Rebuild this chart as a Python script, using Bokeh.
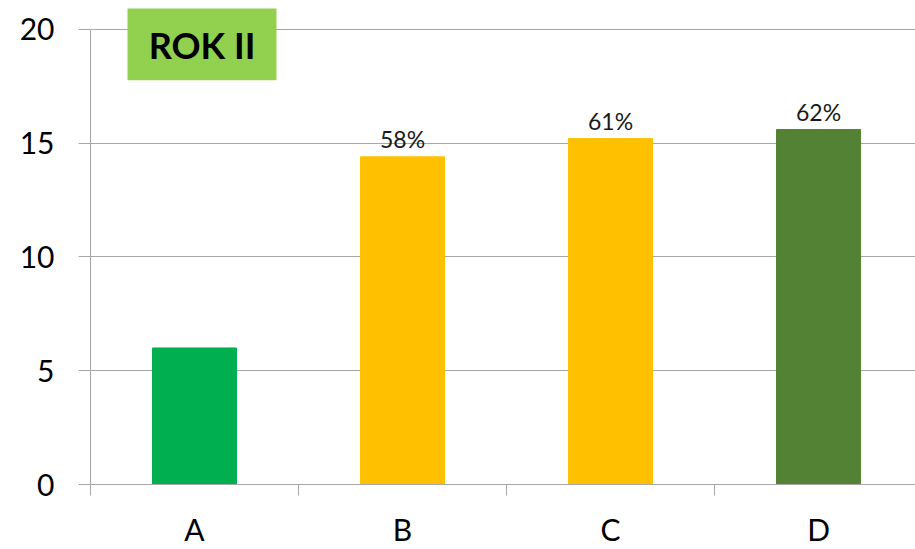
from bokeh.plotting import figure
from bokeh.models import Range1d, FixedTicker, BoxAnnotation, Label, ColumnDataSource
from bokeh.core.properties import value
from bokeh.embed import file_html
from bokeh.resources import INLINE

# Chart data
categories = ["A", "B", "C", "D"]
counts = [6.0, 14.4, 15.2, 15.6]
total = 25
show_share = [False, True, True, True]
bar_colors = ["#00B050", "#FFC000", "#FFC000", "#548235"]
y_ticks = [0, 5, 10, 15, 20]
title_text = "ROK II"

xs = list(range(len(categories)))
share_labels = [f"{round(c / total * 100)}%" if s else "" for c, s in zip(counts, show_share)]

FONT = "Lato"
GRID = "#A6A6A6"

p = figure(width=915, height=549, output_backend="svg", toolbar_location=None,
           x_range=Range1d(-0.5, 3.466), y_range=Range1d(0, 21.27),
           min_border_left=90, min_border_right=0, min_border_top=0, min_border_bottom=63)
p.outline_line_color = None
p.background_fill_color = "white"
p.border_fill_color = "white"

src = ColumnDataSource(dict(x=xs, top=counts, color=bar_colors, lab=share_labels))
p.vbar(x="x", top="top", width=0.404, color="color", source=src)
p.text(x="x", y="top", text="lab", source=src, text_align="center",
       text_baseline="alphabetic", y_offset=-18, text_font=value(FONT),
       text_font_size="23px", text_color="#1a1a1a")

# y axis
p.yaxis.ticker = FixedTicker(ticks=y_ticks)
p.yaxis.bounds = (0, 20)
p.yaxis.axis_line_color = GRID
p.yaxis.major_tick_line_color = GRID
p.yaxis.major_tick_out = 12
p.yaxis.major_tick_in = 0
p.yaxis.minor_tick_line_color = None
p.yaxis.major_label_standoff = 24
p.yaxis.major_label_text_font = FONT
p.yaxis.major_label_text_font_size = "30px"
p.yaxis.major_label_text_color = "black"

# x axis: names at category centres, tick marks at the boundaries
p.xaxis.ticker = FixedTicker(ticks=xs, minor_ticks=[i - 0.5 for i in range(len(categories) + 1)])
p.xaxis.major_label_overrides = {i: c for i, c in enumerate(categories)}
p.xaxis.bounds = (-0.5, 3.466)
p.xaxis.axis_line_color = GRID
p.xaxis.major_tick_line_color = None
p.xaxis.major_tick_out = 0
p.xaxis.major_tick_in = 0
p.xaxis.minor_tick_line_color = GRID
p.xaxis.minor_tick_out = 11
p.xaxis.minor_tick_in = 0
p.xaxis.major_label_standoff = 15
p.xaxis.major_label_text_font = FONT
p.xaxis.major_label_text_font_size = "30px"
p.xaxis.major_label_text_color = "black"

p.xgrid.grid_line_color = None
p.ygrid.ticker = FixedTicker(ticks=y_ticks)
p.ygrid.grid_line_color = GRID
p.ygrid.grid_line_width = 1

# title badge
p.add_layout(BoxAnnotation(left=-0.322, right=0.394, bottom=17.77, top=20.92,
                           fill_color="#92D050", fill_alpha=1, line_color=None, level="overlay"))
p.add_layout(Label(x=0.036, y=19.3, text=title_text, text_align="center", text_baseline="middle",
                   text_font=FONT, text_font_style="bold", text_font_size="36px",
                   text_color="black", level="overlay"))

open("out.html", "w").write(file_html(p, INLINE))
